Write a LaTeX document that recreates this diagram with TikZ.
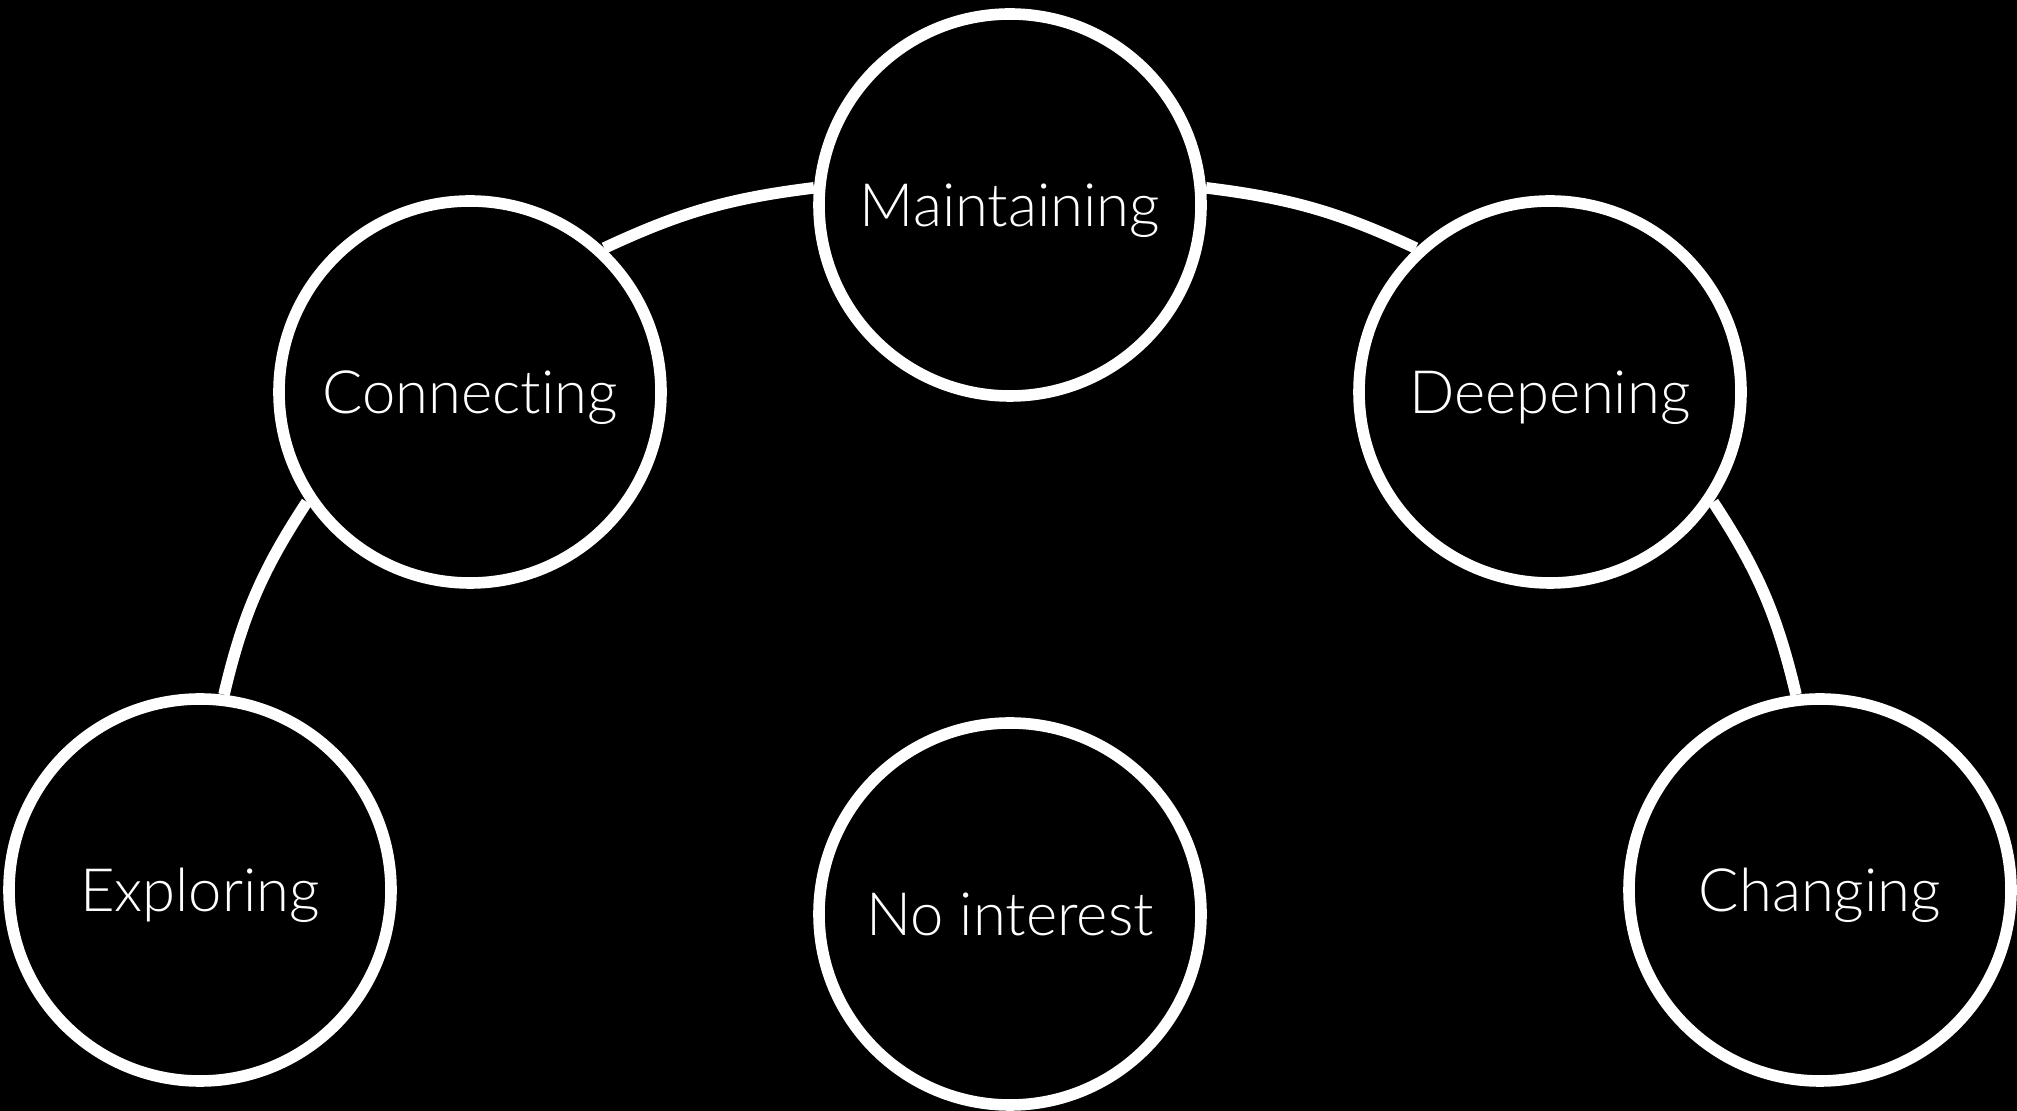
\documentclass[tikz,border=0pt]{standalone}
\usepackage{fontspec}
\setmainfont{Lato}[UprightFont=* Light,Ligatures=NoCommon]
\usepackage{tikz}

\begin{document}
\begin{tikzpicture}
\tikzstyle{stage}=[circle,draw=white,line width=3.3pt,minimum size=3.82cm,inner sep=0pt,
  text=white,font=\fontsize{17}{19}\selectfont,text height=12.2pt,text depth=0pt]
\tikzstyle{link}=[draw=white,line width=3.3pt]

\fill [black] (0,0) rectangle (20.17,11.11);
\useasboundingbox (0,0) rectangle (20.17,11.11);

\node [stage] (maint) at (10.10,9.06) {Maintaining};
\node [stage] (conn) at (4.70,7.19) {Connecting};
\node [stage] (deep) at (15.50,7.19) {Deepening};
\node [stage] (expl) at (2.00,2.21) {Exploring};
\node [stage] (chng) at (18.20,2.21) {Changing};
\node [stage] (noint) at (10.10,1.97) {No interest};

\draw [link] (expl.83) to [bend left=10] (conn.214);
\draw [link] (conn.47) to [bend left=9] (maint.175);
\draw [link] (maint.5) to [bend left=9] (deep.133);
\draw [link] (deep.326) to [bend left=10] (chng.97);
\end{tikzpicture}
\end{document}
